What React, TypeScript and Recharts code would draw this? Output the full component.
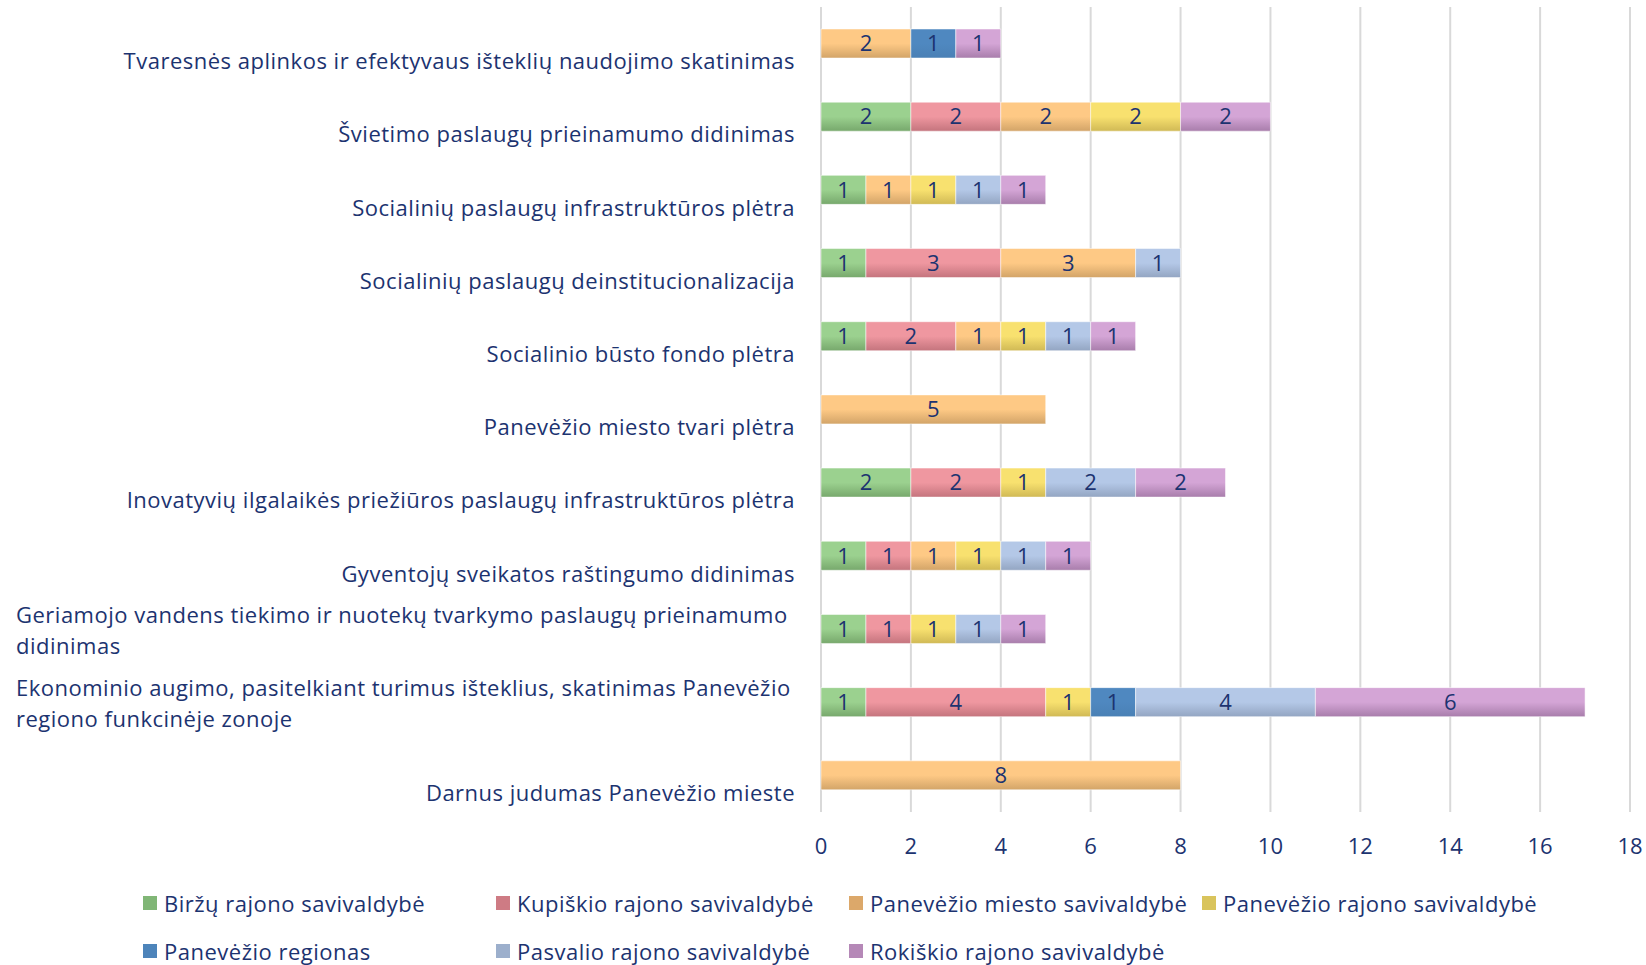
import React from "react";
import { BarChart, Bar, XAxis, YAxis, CartesianGrid, LabelList } from "recharts";

const categories: string[][] = [
  ["Tvaresnės aplinkos ir efektyvaus išteklių naudojimo skatinimas"],
  ["Švietimo paslaugų prieinamumo didinimas"],
  ["Socialinių paslaugų infrastruktūros plėtra"],
  ["Socialinių paslaugų deinstitucionalizacija"],
  ["Socialinio būsto fondo plėtra"],
  ["Panevėžio miesto tvari plėtra"],
  ["Inovatyvių ilgalaikės priežiūros paslaugų infrastruktūros plėtra"],
  ["Gyventojų sveikatos raštingumo didinimas"],
  ["Geriamojo vandens tiekimo ir nuotekų tvarkymo paslaugų prieinamumo", "didinimas"],
  ["Ekonominio augimo, pasitelkiant turimus išteklius, skatinimas Panevėžio", "regiono funkcinėje zonoje"],
  ["Darnus judumas Panevėžio mieste"],
];

const seriesNames = [
  "Biržų rajono savivaldybė",
  "Kupiškio rajono savivaldybė",
  "Panevėžio miesto savivaldybė",
  "Panevėžio rajono savivaldybė",
  "Panevėžio regionas",
  "Pasvalio rajono savivaldybė",
  "Rokiškio rajono savivaldybė",
];

const birzu = [0, 2, 1, 1, 1, 0, 2, 1, 1, 1, 0];
const kupiskio = [0, 2, 0, 3, 2, 0, 2, 1, 1, 4, 0];
const panMiesto = [2, 2, 1, 3, 1, 5, 0, 1, 0, 0, 8];
const panRajono = [0, 2, 1, 0, 1, 0, 1, 1, 1, 1, 0];
const panRegionas = [1, 0, 0, 0, 0, 0, 0, 0, 0, 1, 0];
const pasvalio = [0, 0, 1, 1, 1, 0, 2, 1, 1, 4, 0];
const rokiskio = [1, 2, 1, 0, 1, 0, 2, 1, 1, 6, 0];

const seriesValues = [birzu, kupiskio, panMiesto, panRajono, panRegionas, pasvalio, rokiskio];

const xTicks = [0, 2, 4, 6, 8, 10, 12, 14, 16, 18];

const colorsTop = ["#9BD18F", "#EF97A0", "#FEC985", "#F8E16F", "#4F88C0", "#B4C8E7", "#D4A5D6"];
const colorsBot = ["#77A86C", "#C4747D", "#D2A468", "#D0B955", "#4A80B5", "#93A5C2", "#A87DAB"];
const colorsMid = ["#80B676", "#CE7B84", "#DCA86A", "#D9C45C", "#4D84BA", "#9CAFCC", "#B588B7"];

const TEXT = "#1C3370";
const FONT = "'Open Sans', sans-serif";
const LABEL_SIZE = 22;
const LABEL_SPACING = 0.5;

const data = categories.map((lines, i) => {
  const row: Record<string, any> = { name: lines.join(" "), lines };
  seriesNames.forEach((s, k) => {
    row["s" + k] = seriesValues[k][i];
  });
  return row;
});

const YTick = (props: any) => {
  const { y, payload } = props;
  const lines: string[] = categories[payload.index] || [payload.value];
  if (lines.length === 1) {
    return (
      <text x={795} y={y + 18} textAnchor="end" dy="0.35em" fill={TEXT} fontSize={LABEL_SIZE} letterSpacing={LABEL_SPACING} fontFamily={FONT}>
        {lines[0]}
      </text>
    );
  }
  return (
    <text fill={TEXT} fontSize={LABEL_SIZE} letterSpacing={LABEL_SPACING} fontFamily={FONT}>
      <tspan x={16} y={y - 14} dy="0.35em">{lines[0]}</tspan>
      <tspan x={16} y={y + 17.5} dy="0.35em">{lines[1]}</tspan>
    </text>
  );
};

const XTick = (props: any) => {
  const { x, payload } = props;
  return (
    <text x={x} y={846} textAnchor="middle" dy="0.35em" fill={TEXT} fontSize={22} fontFamily={FONT}>
      {payload.value}
    </text>
  );
};

export default function App() {
  return (
    <div style={{ position: "absolute", left: 0, top: 0, width: 1646, height: 965, background: "#fff" }}>
      <BarChart
        width={1646}
        height={965}
        data={data}
        layout="vertical"
        margin={{ top: 7, right: 16, bottom: 113, left: 0 }}
        barSize={29}
      >
        <defs>
          {seriesNames.map((s, k) => (
            <linearGradient key={k} id={"g" + k} x1="0" y1="0" x2="0" y2="1">
              <stop offset="0" stopColor={colorsTop[k]} />
              <stop offset="0.5" stopColor={colorsTop[k]} />
              <stop offset="1" stopColor={colorsBot[k]} />
            </linearGradient>
          ))}
        </defs>
        <CartesianGrid horizontal={false} vertical={true} stroke="#D9D9D9" strokeWidth={2} />
        <XAxis
          type="number"
          domain={[0, 18]}
          ticks={xTicks}
          axisLine={false}
          tickLine={false}
          tick={<XTick />}
          height={40}
          interval={0}
        />
        <YAxis
          type="category"
          dataKey="name"
          width={821}
          axisLine={false}
          tickLine={false}
          tick={<YTick />}
          interval={0}
        />
        {seriesNames.map((s, k) => (
          <Bar
            key={k}
            dataKey={"s" + k}
            name={s}
            stackId="a"
            fill={"url(#g" + k + ")"}
            stroke="#ffffff"
            strokeOpacity={0.5}
            strokeWidth={1}
            isAnimationActive={false}
          >
            <LabelList
              dataKey={"s" + k}
              position="center"
              fill={TEXT}
              fontSize={22}
              fontFamily={FONT}
              formatter={(v: any) => (v ? String(v) : "")}
            />
          </Bar>
        ))}
      </BarChart>
      {seriesNames.map((s, k) => {
        const row = Math.floor(k / 4);
        const col = k % 4;
        const left = 143 + col * 353;
        const top = row === 0 ? 903 : 951;
        return (
          <div
            key={k}
            style={{
              position: "absolute",
              left,
              top: top - 14,
              height: 28,
              display: "flex",
              alignItems: "center",
              fontFamily: FONT,
              fontSize: LABEL_SIZE,
              letterSpacing: LABEL_SPACING,
              color: TEXT,
              whiteSpace: "nowrap",
            }}
          >
            <span style={{ display: "inline-block", width: 14, height: 14, background: colorsMid[k], marginRight: 7 }} />
            {s}
          </div>
        );
      })}
    </div>
  );
}
